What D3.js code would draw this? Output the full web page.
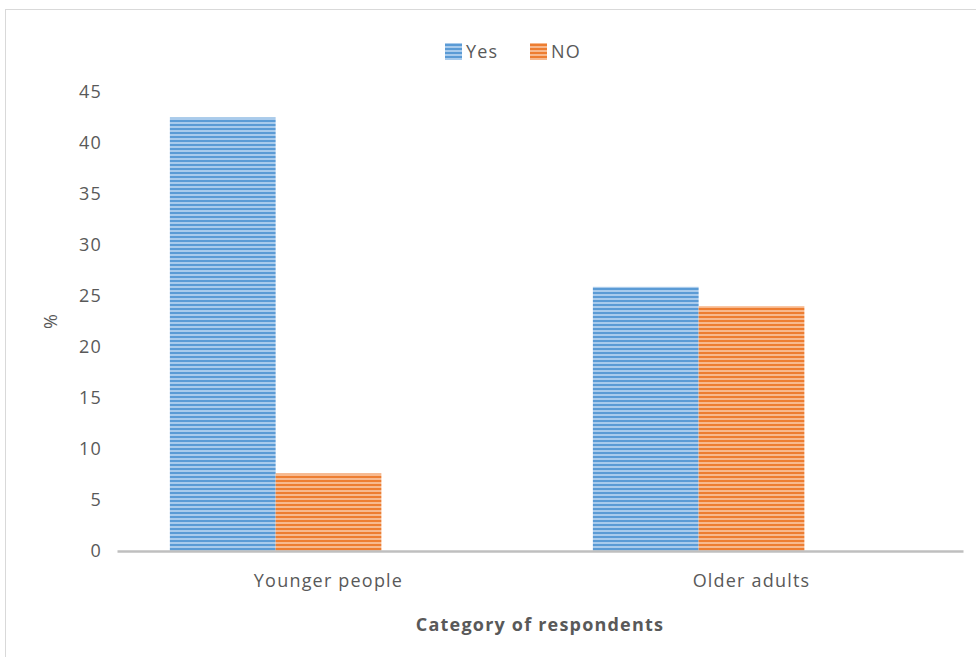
<!DOCTYPE html>
<html><head><meta charset="utf-8">
<script src="https://cdn.jsdelivr.net/npm/d3@7"></script>
<style>body{margin:0;background:#fff} text{letter-spacing:1.2px}</style>
</head><body><svg id="c" width="976" height="657"></svg>
<script>
const categories = ["Younger people", "Older adults"];
const seriesNames = ["Yes", "NO"];
const yesValues = [42.5, 25.9];
const noValues = [7.6, 24.0];
const yTicks = [0, 5, 10, 15, 20, 25, 30, 35, 40, 45];
const colors = {Yes: ["#5b9bd5", "#a9cbec"], NO: ["#ed7d31", "#f7b98e"]};

(function () {
const svg = d3.select("#c");
const font = "'Open Sans', 'Liberation Sans', sans-serif";
const fs = 18;
const defs = svg.append("defs");
seriesNames.forEach(s => {
  const p = defs.append("pattern").attr("id", "pat" + s).attr("patternUnits", "userSpaceOnUse")
    .attr("width", 8).attr("height", 4);
  p.append("rect").attr("width", 8).attr("height", 4).attr("fill", colors[s][1]);
  p.append("rect").attr("width", 8).attr("height", 2).attr("fill", colors[s][0]);
});

// outer border
svg.append("rect").attr("x", 5.5).attr("y", 9.5).attr("width", 1000).attr("height", 700)
  .attr("fill", "none").attr("stroke", "#d9d9d9").attr("stroke-width", 1);

const mLeft = 117, mRight = 963, mTop = 92, mBottom = 551;
const y = d3.scaleLinear().domain([0, 45]).range([mBottom, mTop]);
const x0 = d3.scaleBand().domain(categories).range([mLeft, mRight]).paddingInner(0.25).paddingOuter(0.125);
const x1 = d3.scaleBand().domain(seriesNames.concat(["_"])).range([0, x0.bandwidth()]);

const data = categories.map((c, i) => ({cat: c, vals: [{s: "Yes", v: yesValues[i]}, {s: "NO", v: noValues[i]}]}));

// y axis labels
const yAxis = d3.axisLeft(y).tickValues(yTicks).tickSize(0).tickPadding(0);
const gy = svg.append("g").attr("transform", `translate(${mLeft - 15},0)`).call(yAxis);
gy.select(".domain").remove();
gy.selectAll("text").attr("font-family", font).attr("font-size", fs).attr("fill", "#595959");

// bars
const g = svg.append("g");
data.forEach(d => {
  g.selectAll(null).data(d.vals).enter().append("rect")
    .attr("x", v => x0(d.cat) + x1(v.s))
    .attr("width", x1.bandwidth())
    .attr("y", v => y(v.v))
    .attr("height", v => y(0) - y(v.v))
    .attr("fill", v => `url(#pat${v.s})`);
});

// x axis
const xAxis = d3.axisBottom(x0).tickSize(0).tickPadding(23);
const gx = svg.append("g").attr("transform", `translate(0,${mBottom})`).call(xAxis);
gx.select(".domain").attr("stroke", "#bfbfbf").attr("stroke-width", 2.5);
gx.selectAll("text").attr("font-family", font).attr("font-size", fs).attr("fill", "#595959");

// axis titles
svg.append("text").attr("x", (mLeft + mRight) / 2).attr("y", 631).attr("text-anchor", "middle")
  .attr("font-family", font).attr("font-size", fs).attr("font-weight", "bold").attr("fill", "#595959")
  .text("Category of respondents");
svg.append("text").attr("transform", "translate(57,321) rotate(-90)").attr("text-anchor", "middle")
  .attr("font-family", font).attr("font-size", fs).attr("fill", "#595959").text("%");

// legend
const legendX = [445, 530];
seriesNames.forEach((s, i) => {
  svg.append("rect").attr("x", legendX[i]).attr("y", 43).attr("width", 17).attr("height", 17)
    .attr("fill", `url(#pat${s})`);
  svg.append("text").attr("x", legendX[i] + 21).attr("y", 58).attr("font-family", font)
    .attr("font-size", fs).attr("fill", "#595959").text(s);
});
})();
</script></body></html>
